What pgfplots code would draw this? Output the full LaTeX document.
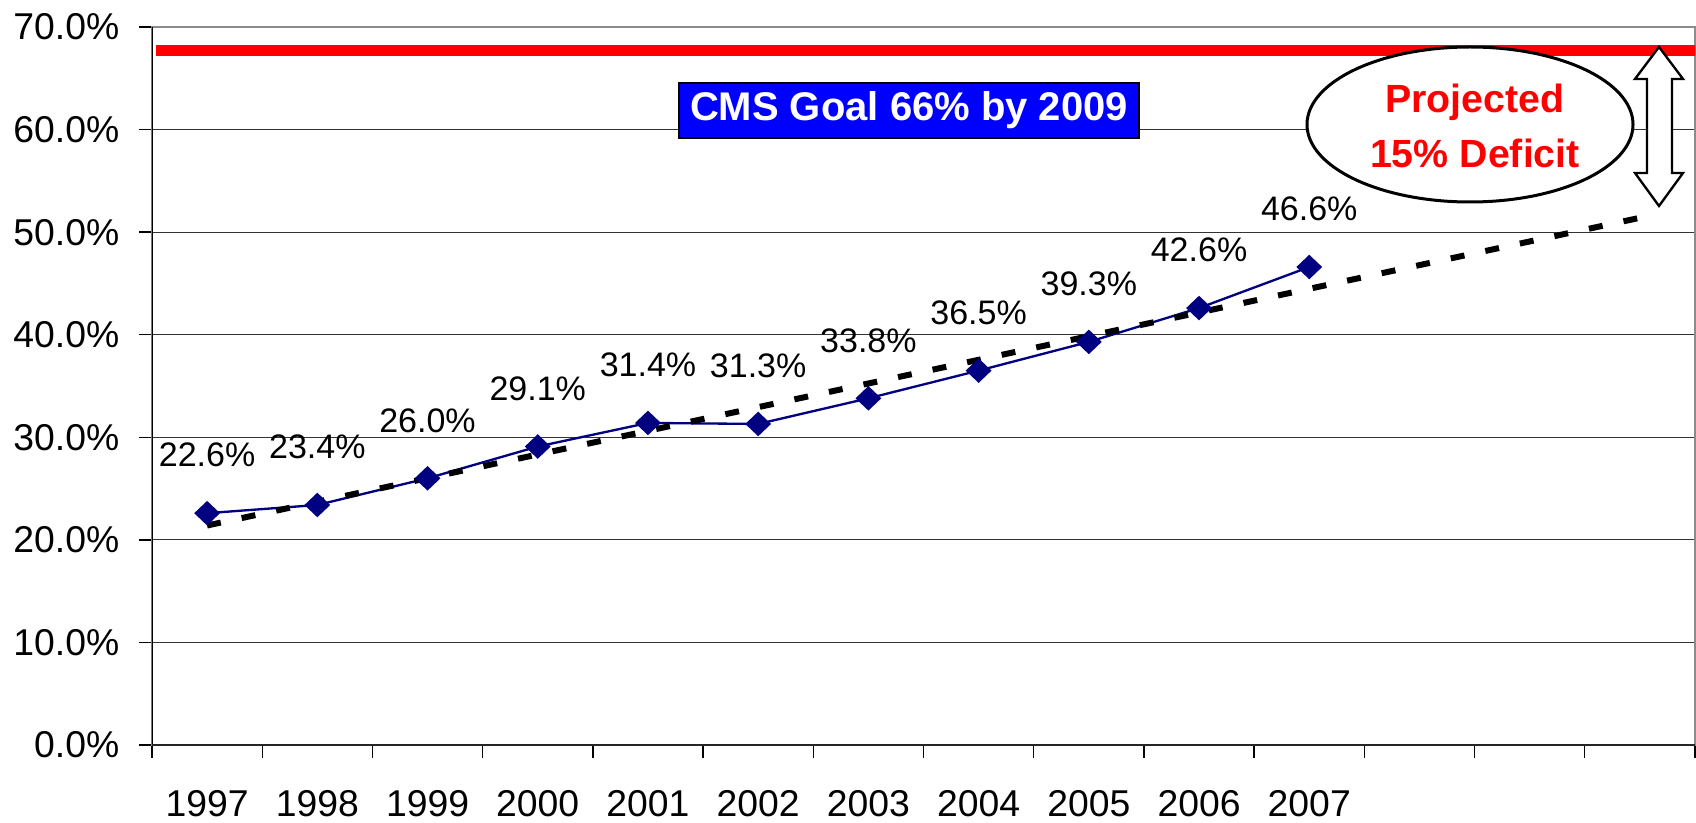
\documentclass[border=0pt]{standalone}
\usepackage{fontspec}
\setmainfont{Liberation Sans}
\usepackage{pgfplots}
\pgfplotsset{compat=1.18}
\usepackage{pgfplotstable}
\definecolor{navyc}{HTML}{000080}
\definecolor{goalblue}{HTML}{0000FF}

\pgfplotstableread{
x y lab
0 22.6 22.6
1 23.4 23.4
2 26.0 26.0
3 29.1 29.1
4 31.4 31.4
5 31.3 31.3
6 33.8 33.8
7 36.5 36.5
8 39.3 39.3
9 42.6 42.6
10 46.6 46.6
}\ratedata

\pgfplotstableread{
x y
0 21.4
13 51.4
}\trenddata

\pgfplotstableread{
x y
-0.46 67.7
13.5 67.7
}\goaldata

\begin{document}
\begin{tikzpicture}
\useasboundingbox (0,0) rectangle (508.8pt,246.6pt);
\begin{axis}[
  at={(45.6pt,23.1pt)}, anchor=south west,
  width=462.9pt, height=215.4pt, scale only axis,
  xmin=-0.5, xmax=13.5, ymin=0, ymax=70,
  xtick={-0.5,0.5,...,13.5}, xticklabels={},
  extra x ticks={0,1,...,10},
  extra x tick labels={1997,1998,1999,2000,2001,2002,2003,2004,2005,2006,2007},
  extra x tick style={major tick length=0pt, grid=none},
  ytick={0,10,...,70},
  yticklabels={0.0\%,10.0\%,20.0\%,30.0\%,40.0\%,50.0\%,60.0\%,70.0\%},
  xtick pos=bottom, ytick pos=left,
  ymajorgrids, major grid style={black!80, line width=0.35pt},
  tick align=outside, major tick length=3.9pt,
  tick style={black, line width=0.4pt},
  axis line style={draw=black!45, line width=0.6pt},
  tick label style={font=\fontsize{11.2}{13}\selectfont},
  xticklabel style={yshift=-10.1pt},
  yticklabel style={xshift=-2.4pt},
]
\addplot[red, line width=3.3pt, forget plot] table[x=x,y=y] {\goaldata};
\addplot[color=navyc, line width=0.7pt, mark=diamond*,
  mark size=3.2pt, mark options={xscale=1.4, fill=navyc, draw=navyc},
  point meta=explicit symbolic,
  nodes near coords={\pgfplotspointmeta\%},
  every node near coord/.append style={font=\fontsize{10.2}{12}\selectfont, black, anchor=center, yshift=17.4pt}]
  table[x=x, y=y, meta=lab] {\ratedata};
\addplot[black, line width=1.8pt, dash pattern=on 4.2pt off 6.4pt] table[x=x,y=y] {\trenddata};
\draw[black, line width=0.6pt] (rel axis cs:0,0) -- (rel axis cs:0,1);
\draw[black!85, line width=0.8pt] (rel axis cs:0,0) -- (rel axis cs:1,0);
\end{axis}
% goal box
\node[fill=goalblue, draw=black, line width=0.8pt, minimum width=138pt, minimum height=16.5pt, inner sep=0pt,
  text=white, font=\fontsize{12}{14}\selectfont\bfseries] at (272.7pt,213.45pt) {CMS Goal 66\% by 2009};
% ellipse
\draw[fill=white, line width=0.9pt] (441pt,209.25pt) ellipse (48.9pt and 23.25pt);
\node[anchor=base, text=red, inner sep=0pt, font=\fontsize{11.8}{14}\selectfont\bfseries] at (442.5pt,212.7pt) {Projected};
\node[anchor=base, text=red, inner sep=0pt, font=\fontsize{11.8}{14}\selectfont\bfseries] at (442.5pt,196.2pt) {15\% Deficit};
% double arrow
\draw[fill=white, line width=0.7pt, line join=miter]
  (497.7pt,232.5pt) -- (504.9pt,222.9pt) -- (501.6pt,222.9pt) -- (501.6pt,194.7pt) -- (504.9pt,194.7pt)
  -- (497.7pt,184.8pt) -- (490.5pt,194.7pt) -- (494.1pt,194.7pt) -- (494.1pt,222.9pt) -- (490.5pt,222.9pt) -- cycle;
\end{tikzpicture}
\end{document}
